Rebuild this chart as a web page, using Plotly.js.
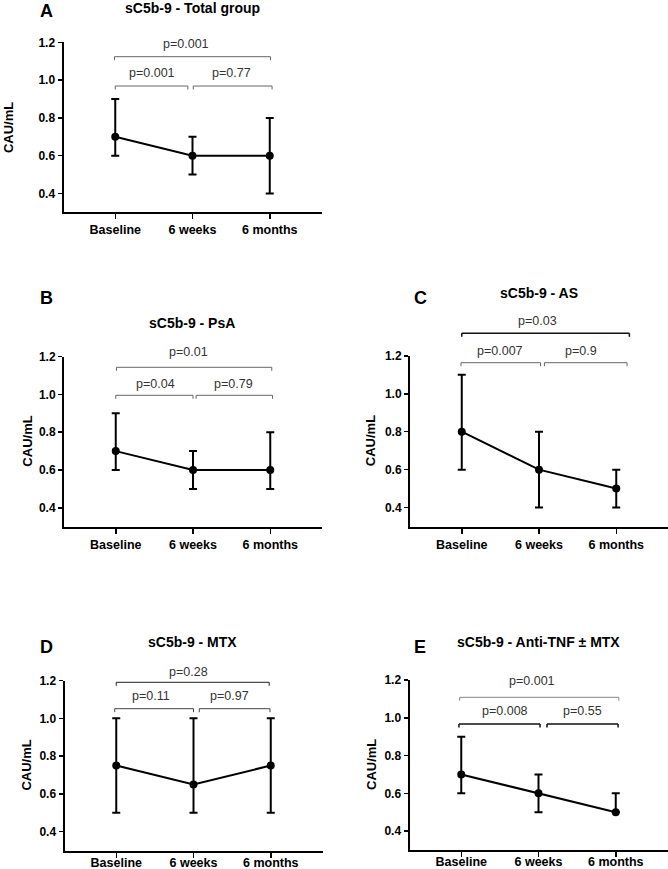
<!DOCTYPE html>
<html>
<head>
<meta charset="utf-8">
<script src="https://cdn.plot.ly/plotly-3.0.1.min.js"></script>
<style>
  html, body { margin: 0; padding: 0; background: #fff; }
  #chart { width: 668px; height: 869px; }
</style>
</head>
<body>
<div id="chart"></div>
<script>
// sC5b-9 median (IQR) at three time points, five patient groups

const timepoints = ['Baseline', '6 weeks', '6 months'];

const medTotal = [0.7, 0.6, 0.6];
const lowTotal = [0.6, 0.5, 0.4];
const highTotal = [0.9, 0.7, 0.8];
const pTotal = ['p=0.001', 'p=0.001', 'p=0.77']; // overall, BL vs 6w, 6w vs 6m

const medPsA = [0.7, 0.6, 0.6];
const lowPsA = [0.6, 0.5, 0.5];
const highPsA = [0.9, 0.7, 0.8];
const pPsA = ['p=0.01', 'p=0.04', 'p=0.79'];

const medAS = [0.8, 0.6, 0.5];
const lowAS = [0.6, 0.4, 0.4];
const highAS = [1.1, 0.8, 0.6];
const pAS = ['p=0.03', 'p=0.007', 'p=0.9'];

const medMTX = [0.75, 0.65, 0.75];
const lowMTX = [0.5, 0.5, 0.5];
const highMTX = [1.0, 1.0, 1.0];
const pMTX = ['p=0.28', 'p=0.11', 'p=0.97'];

const medTNF = [0.7, 0.6, 0.5];
const lowTNF = [0.6, 0.5, 0.5];
const highTNF = [0.9, 0.7, 0.6];
const pTNF = ['p=0.001', 'p=0.008', 'p=0.55'];

const yTicks = [0.4, 0.6, 0.8, 1.0, 1.2];

const W = 668, H = 869;
const FONT = 'Liberation Sans, Arial, sans-serif';
const px = x => x / W;
const py = y => 1 - y / H;

// layout of each panel, in page pixels
const panels = [
    { letter: 'A', title: 'sC5b-9 - Total group', med: medTotal, low: lowTotal, high: highTotal, p: pTotal,
      box: [63.5, 321.5, 42.3, 212.4], letterPos: [46, 11], titlePos: [192, 7.5], ytitleX: 8.7, labelShift: 0,
      brX: [[-0.01, 2.01], [0, 0.94], [1.01, 2.03]], brY: [56.7, 86, 86],
      txtX: [0.91, 0.475, 1.5], txtY: [44, 73, 73], brColor: ['#666', '#666', '#666'] },
    { letter: 'B', title: 'sC5b-9 - PsA', med: medPsA, low: lowPsA, high: highPsA, p: pPsA,
      box: [64, 322, 356.6, 526.7], letterPos: [46, 298], titlePos: [192.3, 322.5], ytitleX: 28, labelShift: 0,
      brX: [[0.01, 2.02], [0, 1.0], [1.04, 2.03]], brY: [367.3, 395.3, 395.3],
      txtX: [0.94, 0.52, 1.53], txtY: [352, 384, 384], brColor: ['#666', '#666', '#666'] },
    { letter: 'C', title: 'sC5b-9 - AS', med: medAS, low: lowAS, high: highAS, p: pAS,
      box: [410, 668, 355.9, 526.5], letterPos: [420.5, 298], titlePos: [538.5, 293], ytitleX: 370, labelShift: 0,
      brX: [[0, 2.17], [-0.01, 1.02], [1.07, 2.14]], brY: [333.3, 362.7, 362.7],
      txtX: [0.98, 0.5, 1.55], txtY: [321, 351, 351], brColor: ['#111', '#666', '#666'] },
    { letter: 'D', title: 'sC5b-9 - MTX', med: medMTX, low: lowMTX, high: highMTX, p: pMTX,
      box: [64.5, 322.5, 680.5, 850.6], letterPos: [46, 646.7], titlePos: [193, 641.7], ytitleX: 27, labelShift: -6,
      brX: [[0, 1.98], [-0.02, 1.0], [1.075, 1.99]], brY: [682.3, 708.7, 708.7],
      txtX: [0.94, 0.45, 1.47], txtY: [672, 696, 696], brColor: ['#222', '#444', '#444'] },
    { letter: 'E', title: 'sC5b-9 - Anti-TNF ± MTX', med: medTNF, low: lowTNF, high: highTNF, p: pTNF,
      box: [409.5, 667.5, 680, 850], letterPos: [419.5, 646.5], titlePos: [538.5, 641.7], ytitleX: 371, labelShift: -6,
      brX: [[-0.02, 2.04], [-0.03, 1.02], [1.11, 2.03]], brY: [697.3, 724, 724],
      txtX: [0.91, 0.57, 1.57], txtY: [681, 711, 711], brColor: ['#888', '#111', '#111'] },
];

const traces = [];
const shapes = [];
const annotations = [];
const layout = {
    width: W, height: H,
    margin: { l: 0, r: 0, t: 0, b: 0 },
    paper_bgcolor: '#fff', plot_bgcolor: '#fff',
    font: { family: FONT, color: '#000' },
    showlegend: false,
};

panels.forEach((pn, i) => {
    const n = i + 1;
    const xa = 'x' + (n > 1 ? n : '');
    const ya = 'y' + (n > 1 ? n : '');
    const [x0, x1, yTop, yBot] = pn.box;

    traces.push({
        x: timepoints, y: pn.med,
        xaxis: xa, yaxis: ya,
        type: 'scatter', mode: 'lines+markers',
        line: { color: '#000', width: 2 },
        marker: { color: '#000', size: 8 },
        error_y: {
            type: 'data', symmetric: false,
            array: pn.high.map((h, k) => h - pn.med[k]),
            arrayminus: pn.low.map((l, k) => pn.med[k] - l),
            color: '#000', thickness: 2, width: 4,
        },
        cliponaxis: false,
        hoverinfo: 'skip',
    });

    layout['xaxis' + (n > 1 ? n : '')] = {
        domain: [px(x0), px(x1)], anchor: ya,
        type: 'category', range: [-0.67, 2.67],
        showline: true, linecolor: '#000', linewidth: 2,
        ticks: 'outside', ticklen: 5, tickwidth: 1.5, tickcolor: '#000',
        ticklabelstandoff: pn.labelShift,
        tickfont: { family: FONT, size: 12.5, color: '#000', weight: 'bold' },
        showgrid: false, zeroline: false, fixedrange: true,
    };
    layout['yaxis' + (n > 1 ? n : '')] = {
        domain: [py(yBot), py(yTop)], anchor: xa,
        range: [0.3, 1.2], tickvals: yTicks, ticktext: yTicks.map(v => v.toFixed(1)),
        showline: true, linecolor: '#000', linewidth: 2,
        ticks: 'outside', ticklen: 4, tickwidth: 1.5, tickcolor: '#000',
        tickfont: { family: FONT, size: 12, color: '#000', weight: 'bold' },
        showgrid: false, zeroline: false, fixedrange: true,
    };

    // comparison brackets
    pn.brX.forEach(([bx0, bx1], k) => {
        const yl = pn.brY[k];
        const line = { color: pn.brColor[k], width: pn.brColor[k] === '#111' ? 1.5 : 1 };
        shapes.push(
            { type: 'line', xref: xa, yref: 'paper', x0: bx0, x1: bx1, y0: py(yl), y1: py(yl), line },
            { type: 'line', xref: xa, yref: 'paper', x0: bx0, x1: bx0, y0: py(yl), y1: py(yl + 3.5), line },
            { type: 'line', xref: xa, yref: 'paper', x0: bx1, x1: bx1, y0: py(yl), y1: py(yl + 3.5), line },
        );
        annotations.push({
            xref: xa, yref: 'paper', x: pn.txtX[k], y: py(pn.txtY[k]),
            text: pn.p[k], showarrow: false, xanchor: 'center', yanchor: 'middle',
            font: { family: FONT, size: 12.5, color: '#333' },
        });
    });

    annotations.push(
        { xref: 'paper', yref: 'paper', x: px(pn.letterPos[0]), y: py(pn.letterPos[1]),
          text: '<b>' + pn.letter + '</b>', showarrow: false, xanchor: 'center', yanchor: 'middle',
          font: { family: FONT, size: 18, color: '#000' } },
        { xref: 'paper', yref: 'paper', x: px(pn.titlePos[0]), y: py(pn.titlePos[1]),
          text: '<b>' + pn.title + '</b>', showarrow: false, xanchor: 'center', yanchor: 'middle',
          font: { family: FONT, size: 14, color: '#000' } },
        { xref: 'paper', yref: 'paper', x: px(pn.ytitleX), y: py((yTop + yBot) / 2),
          text: '<b>CAU/mL</b>', showarrow: false, textangle: -90, xanchor: 'center', yanchor: 'middle',
          font: { family: FONT, size: 13, color: '#000' } },
    );
});

layout.shapes = shapes;
layout.annotations = annotations;

Plotly.newPlot('chart', traces, layout, { displayModeBar: false, staticPlot: true });
</script>
</body>
</html>
